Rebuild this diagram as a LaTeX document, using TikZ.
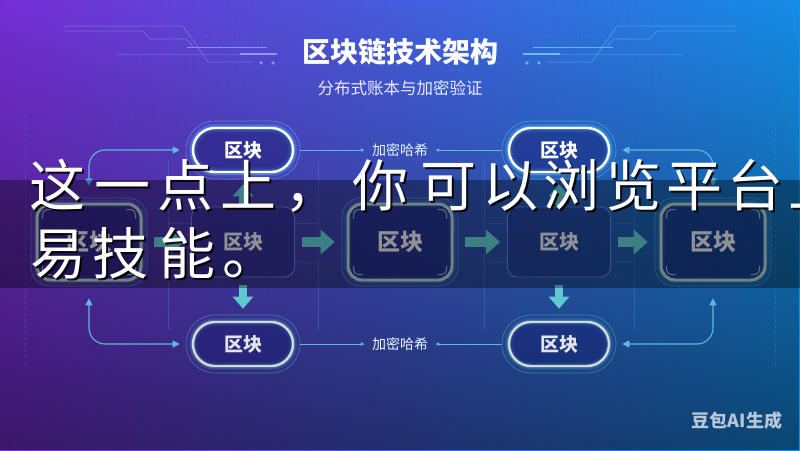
\documentclass[tikz,border=0pt]{standalone}
\usepackage{fontspec}
\newfontfamily\cjk{Noto Sans CJK SC}
\usetikzlibrary{arrows.meta,fadings}
\definecolor{bgA}{RGB}{118,46,212}
\definecolor{bgB}{RGB}{50,80,210}
\definecolor{bgC}{RGB}{20,142,230}
\definecolor{navyc}{RGB}{22,28,110}
\definecolor{glowc}{RGB}{90,200,255}
\definecolor{tglow}{RGB}{80,180,210}
\definecolor{arrowc}{RGB}{96,200,208}
\definecolor{connc}{RGB}{96,184,226}
\definecolor{gborder}{RGB}{176,204,206}
\definecolor{pborder}{RGB}{96,128,216}
\definecolor{lblc}{RGB}{226,228,234}
\definecolor{pgrey}{RGB}{214,216,214}
\definecolor{decoL}{RGB}{150,160,255}
\definecolor{decoR}{RGB}{110,200,255}
\definecolor{wmc}{RGB}{184,198,218}
\tikzfading[name=fadedown, top color=transparent!100, bottom color=transparent!0]
\newcommand\mytitledeco[1]{%
  \draw[#1, opacity=.45, line width=.8pt] (63,26) -- (183,26) -- (208,62) -- (253,62);
  \draw[#1, opacity=.45, line width=.8pt] (65,31) -- (143,31) -- (150,39) -- (187,39) -- (193,47);
  \draw[#1, opacity=.8, line width=1pt] (187,47) -- (267,47);
  \draw[#1, opacity=.3, line width=.8pt] (117,54) -- (240,54);
  \draw[#1, opacity=.9, line width=2pt] (240,54) -- (277,54);
  \fill[#1, opacity=.8] (261,63) circle (1.8pt) (273,63) circle (1.8pt);
  \draw[#1, opacity=.35, line width=1pt, dash pattern=on 1pt off 4pt] (207,35) -- (267,35) (207,41) -- (267,41);
}
\begin{document}
\begin{tikzpicture}[x=1pt,y=-1pt,
  every node/.style={font=\cjk},
  pillbase/.style={line width=2.4pt, rounded corners=22pt, minimum width=100pt, minimum height=44pt,
    fill=navyc, fill opacity=.45, text opacity=1, font=\cjk\bfseries\fontsize{19}{20}\selectfont},
  pilltop/.style={pillbase, draw=white, text=white,
    preaction={draw=glowc, line width=9pt, opacity=.18},
    preaction={draw=glowc, line width=5.5pt, opacity=.35}},
  pillbot/.style={pillbase, draw=pgrey, text=lblc,
    preaction={draw=tglow, line width=8pt, opacity=.15},
    preaction={draw=tglow, line width=5pt, opacity=.3}},
  ring/.style={draw=#1, line width=.6pt, draw opacity=.55},
  pring/.style={ring=#1, rounded corners=29pt, minimum width=114pt, minimum height=58pt},
  gbox/.style={draw=gborder, line width=3pt, rounded corners=14pt, minimum width=104pt, minimum height=76pt,
    fill=navyc, fill opacity=.5, text opacity=1, text=lblc, font=\cjk\bfseries\fontsize{23}{24}\selectfont,
    preaction={draw=glowc, line width=8pt, opacity=.15}},
  gring/.style={ring=glowc, rounded corners=19pt, minimum width=116pt, minimum height=88pt},
  pbox/.style={draw=pborder, line width=.9pt, rounded corners=10pt, minimum width=103pt, minimum height=70pt,
    fill=navyc, fill opacity=.3, text opacity=1, text=lblc, font=\cjk\bfseries\fontsize{20}{21}\selectfont},
  tick/.style={draw=gborder, line width=1pt, rounded corners=5pt, opacity=.8},
  bigarr/.style={draw=arrowc, line width=10pt, -{Triangle[length=14pt,width=24pt]}, shorten <=7pt, shorten >=7pt},
  varr/.style={draw=arrowc, line width=8pt, -{Triangle[length=12pt,width=20pt]}},
  conn/.style={draw=connc, line width=1.1pt, rounded corners=16pt,
    {Triangle[length=7pt,width=7pt]}-{Triangle[length=7pt,width=7pt]}},
  hline/.style={draw=connc, line width=1pt, -{Latex[length=4pt,width=4pt]}},
  hlabel/.style={font=\cjk\fontsize{14}{15}\selectfont, text=white!90!cyan, inner sep=7pt},
  frame/.style={draw=pborder, line width=.7pt, opacity=.35},
  ov/.style={font=\cjk\fontsize{56}{60}\selectfont, text=white, anchor=base, inner sep=0pt},
  ovs/.style={ov, text=black, text opacity=.85},
]
\useasboundingbox (0,0) rectangle (800,450);
% background
\shade[left color=bgA, middle color=bgB, right color=bgC] (0,0) rectangle (800,450);
\fill[black, path fading=fadedown, fill opacity=.5] (0,0) rectangle (800,450);

% title decorations
\mytitledeco{decoL}
\begin{scope}[xshift=800pt, xscale=-1]
\mytitledeco{decoR}
\end{scope}

% title
\node[font=\cjk\bfseries\fontsize{28}{30}\selectfont, text=white] (title) at (400,52) {区块链技术架构};
\node[font=\cjk\fontsize{16.5}{18}\selectfont, text=white!92!blue] (sub) at (400,88) {分布式账本与加密验证};

% faint frame lines
\draw[frame, dashed] (25,115) -- (25,365);
\draw[frame, dashed] (775,115) -- (775,365);
\foreach \cx in {243,559}{
  \draw[frame] (\cx-75,160) -- (\cx-75,330);
  \draw[frame] (\cx+75,160) -- (\cx+75,330);
  \draw[frame] (\cx-75,223) -- (\cx-51,223) (\cx-75,262) -- (\cx-51,262);
  \draw[frame] (\cx+75,223) -- (\cx+51,223) (\cx+75,262) -- (\cx+51,262);
}

% pills
\node[pring=glowc] (p1r) at (243,150) {};
\node[pring=glowc] (p2r) at (559,150) {};
\node[pring=tglow] (p3r) at (243,344) {};
\node[pring=tglow] (p4r) at (559,344) {};
\node[pilltop] (p1) at (243,150) {区块};
\node[pilltop] (p2) at (559,150) {区块};
\node[pillbot] (p3) at (243,344) {区块};
\node[pillbot] (p4) at (559,344) {区块};

% middle row
\node[gring] (b1r) at (89,242) {};
\node[gring] (b3r) at (400,242) {};
\node[gring] (b5r) at (713,242) {};
\node[gbox] (b1) at (89,242) {区块};
\node[pbox] (b2) at (243,242) {区块};
\node[gbox] (b3) at (400,242) {区块};
\node[pbox] (b4) at (559,242) {区块};
\node[gbox] (b5) at (713,242) {区块};
\foreach \b in {b1,b3,b5}{
  \draw[tick] ([shift={(7pt,-16pt)}]\b.north west) |- ++(9pt,9pt);
  \draw[tick] ([shift={(-7pt,-16pt)}]\b.north east) |- ++(-9pt,9pt);
  \draw[tick] ([shift={(7pt,16pt)}]\b.south west) |- ++(9pt,-9pt);
  \draw[tick] ([shift={(-7pt,16pt)}]\b.south east) |- ++(-9pt,-9pt);
}

% big arrows
\draw[bigarr] (b1r.east) -- (b2.west);
\draw[bigarr] (b2.east) -- (b3r.west);
\draw[bigarr] (b3r.east) -- (b4.west);
\draw[bigarr] (b4.east) -- (b5r.west);
\draw[varr, shorten <=2pt, shorten >=5pt] (b2.north) -- (p1r.south);
\draw[varr, shorten <=2pt, shorten >=5pt] (b4.north) -- (p2r.south);
\draw[varr, shorten <=8pt, shorten >=6pt] (b2.south) -- (p3r.north);
\draw[varr, shorten <=8pt, shorten >=6pt] (b4.south) -- (p4r.north);

% curved connectors
\draw[conn] ([yshift=12pt]b1r.north) |- ([xshift=-6pt]p1r.west);
\draw[conn] ([yshift=-12pt]b1r.south) |- ([xshift=-6pt]p3r.west);
\draw[conn] ([yshift=12pt]b5r.north) |- ([xshift=6pt]p2r.east);
\draw[conn] ([yshift=-12pt]b5r.south) |- ([xshift=6pt]p4r.east);

% hash labels
\node[hlabel] (h1) at (400,150) {加密哈希};
\node[hlabel] (h2) at (400,344) {加密哈希};
\draw[hline] (p1r.east) -- (h1.west);
\draw[hline] (p2r.west) -- (h1.east);
\draw[hline] (p3r.east) -- (h2.west);
\draw[hline] (p4r.west) -- (h2.east);

% watermark
\node[font=\cjk\bfseries\fontsize{18}{20}\selectfont, text=wmc] (wm) at (737,421) {豆包AI生成};

% dark band
\fill[black, opacity=.36] (0,180) rectangle (800,288);

% overlay text
\foreach \c/\x [count=\i] in {这/57,一/122,点/185,上/248,，/312,你/380,可/448,以/510,浏/571,览/633,平/694,台/755,上/816}{
  \node[ovs, xshift=2pt, yshift=-2pt] (sa\i) at (\x,206) {\c};
  \node[ov] (ta\i) at (\x,206) {\c};
}
\foreach \c/\x [count=\i] in {易/58,技/120,能/187,。/250}{
  \node[ovs, xshift=2pt, yshift=-2pt] (sb\i) at (\x,274) {\c};
  \node[ov] (tb\i) at (\x,274) {\c};
}
\end{tikzpicture}
\end{document}
